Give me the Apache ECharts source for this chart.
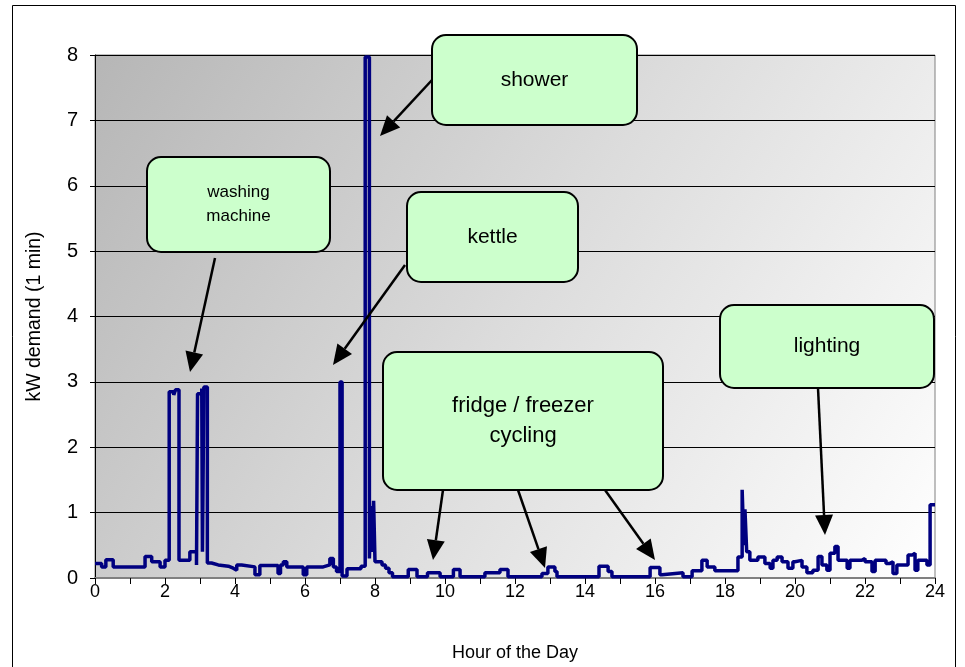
<!DOCTYPE html>
<html><head><meta charset="utf-8">
<script src="https://cdn.jsdelivr.net/npm/echarts@6/dist/echarts.min.js"></script>
<style>html,body{margin:0;padding:0;background:#fff}#c{width:965px;height:667px}</style>
</head><body><div id="c"></div>
<script>
// breakpoint hours and kW demand (value holds from that hour to the next one)
const hours = [0.00,0.19,0.31,0.52,1.43,1.62,1.86,2.00,2.12,2.25,2.30,2.40,2.71,2.90,2.93,3.05,3.07,3.11,3.21,3.33,3.52,3.81,3.95,4.05,4.19,4.57,4.71,5.23,5.30,5.38,5.48,5.95,6.05,6.52,6.71,6.81,6.90,7.00,7.06,7.20,7.60,7.72,7.84,7.88,7.92,7.96,8.00,8.20,8.30,8.40,8.50,8.95,9.20,9.50,9.86,10.24,10.43,11.14,11.57,11.80,12.77,12.94,13.14,13.20,14.40,14.66,14.77,15.86,16.14,16.20,16.80,17.06,17.34,17.49,17.71,18.37,18.49,18.54,18.57,18.62,18.71,18.94,19.14,19.29,19.37,19.49,19.63,19.80,19.94,20.00,20.20,20.34,20.51,20.66,20.77,20.91,21.00,21.14,21.23,21.49,21.57,21.91,22.00,22.20,22.29,22.60,22.70,22.80,22.91,23.23,23.35,23.43,23.51,23.77,23.86,24.00];
const kw = [0.22,0.17,0.28,0.17,0.33,0.25,0.17,0.27,2.85,2.80,2.88,0.27,0.40,0.20,2.82,2.90,0.40,2.92,0.23,0.20,0.18,0.15,0.12,0.20,0.17,0.05,0.19,0.07,0.20,0.25,0.17,0.05,0.17,0.20,0.30,0.17,0.10,3.00,0.03,0.14,0.18,7.97,0.30,1.10,0.40,1.18,0.25,0.20,0.15,0.08,0.02,0.13,0.02,0.08,0.02,0.13,0.02,0.08,0.13,0.02,0.07,0.17,0.10,0.02,0.18,0.10,0.02,0.16,0.05,0.08,0.02,0.11,0.27,0.17,0.11,0.32,1.35,0.50,1.05,0.40,0.27,0.32,0.22,0.15,0.27,0.32,0.25,0.15,0.25,0.27,0.17,0.08,0.12,0.33,0.20,0.12,0.38,0.48,0.27,0.15,0.27,0.30,0.25,0.10,0.27,0.22,0.25,0.07,0.20,0.35,0.38,0.12,0.27,0.20,1.12,1.13];
const xTicks = [0,2,4,6,8,10,12,14,16,18,20,22,24];
const yTicks = [0,1,2,3,4,5,6,7,8];
const callouts = [
  {lines:['washing','machine'], box:[147,157,183,95], size:17, arrows:[[215,258,190,372]]},
  {lines:['shower'], box:[432,35,205,90], size:21, arrows:[[432,80,380,136]]},
  {lines:['kettle'], box:[407,192,171,90], size:21, arrows:[[405,265,333,365]]},
  {lines:['fridge / freezer','cycling'], box:[383,352,280,138], size:22, arrows:[[443,490,433,560],[518,490,545,568],[605,490,655,560]]},
  {lines:['lighting'], box:[720,305,214,83], size:21, arrows:[[818,388,825,535]]}
];

const FONT = '"Liberation Sans", Arial, sans-serif';
const chart = echarts.init(document.getElementById('c'), null, {renderer:'canvas'});
const data = hours.map((h,i)=>[h,kw[i]]);

const graphics = [];
graphics.push({type:'rect', shape:{x:12.5,y:5.5,width:943,height:700}, style:{fill:null, stroke:'#000', lineWidth:1}, z:-10});
callouts.forEach(c=>{
  c.arrows.forEach(a=>{
    const [x1,y1,x2,y2]=a;
    const ang=Math.atan2(y2-y1,x2-x1), L=20, W=9;
    const bx=x2-L*Math.cos(ang), by=y2-L*Math.sin(ang);
    const px=-Math.sin(ang), py=Math.cos(ang);
    graphics.push({type:'line', shape:{x1:x1,y1:y1,x2:bx,y2:by}, style:{stroke:'#000', lineWidth:2.5}, z:100});
    graphics.push({type:'polygon', shape:{points:[[x2,y2],[bx+px*W,by+py*W],[bx-px*W,by-py*W]]}, style:{fill:'#000'}, z:100});
  });
  const [x,y,w,h]=c.box;
  graphics.push({type:'rect', shape:{x:x,y:y,width:w,height:h,r:14}, style:{fill:'#ccffcc', stroke:'#000', lineWidth:2}, z:101});
  const lh=c.size*1.4;
  const cy=y+h/2-(c.lines.length-1)*lh/2;
  c.lines.forEach((t,i)=>{
    graphics.push({type:'text', x:x+w/2, y:cy+i*lh, style:{text:t, fill:'#000', font:c.size+'px '+FONT, textAlign:'center', textVerticalAlign:'middle'}, z:102});
  });
});

chart.setOption({
  animation:false,
  backgroundColor:'#fff',
  grid:{left:95,right:30,top:55,bottom:89,show:true,borderColor:'#808080',borderWidth:1,
    backgroundColor:new echarts.graphic.LinearGradient(0,0,1,1,[{offset:0,color:'#b6b6b6'},{offset:0.5,color:'#dcdcdc'},{offset:1,color:'#ffffff'}])},
  xAxis:{type:'value',min:0,max:24,interval:1,
    name:'Hour of the Day',nameLocation:'middle',nameGap:66,
    nameTextStyle:{fontFamily:FONT,fontSize:18,color:'#000'},
    axisLine:{show:true,lineStyle:{color:'#808080',width:2}},
    axisTick:{show:true,length:6,lineStyle:{color:'#000'}},
    axisLabel:{fontFamily:FONT,fontSize:18,color:'#000',margin:5,formatter:v=>xTicks.includes(v)?String(v):''},
    splitLine:{show:false}},
  yAxis:{type:'value',min:0,max:8,interval:1,
    name:'kW demand (1 min)',nameLocation:'middle',nameGap:50,
    nameTextStyle:{fontFamily:FONT,fontSize:19.5,color:'#000'},
    axisLine:{show:true,lineStyle:{color:'#000',width:1}},
    axisTick:{show:true,length:5,lineStyle:{color:'#000'}},
    axisLabel:{fontFamily:FONT,fontSize:20,color:'#000',margin:17,formatter:v=>yTicks.includes(v)?String(v):''},
    splitLine:{show:true,lineStyle:{color:'#000',width:1}}},
  series:[{type:'line',data:data,step:'end',showSymbol:false,
    lineStyle:{color:'#000080',width:3.5},z:5}],
  graphic:graphics
});
</script></body></html>
